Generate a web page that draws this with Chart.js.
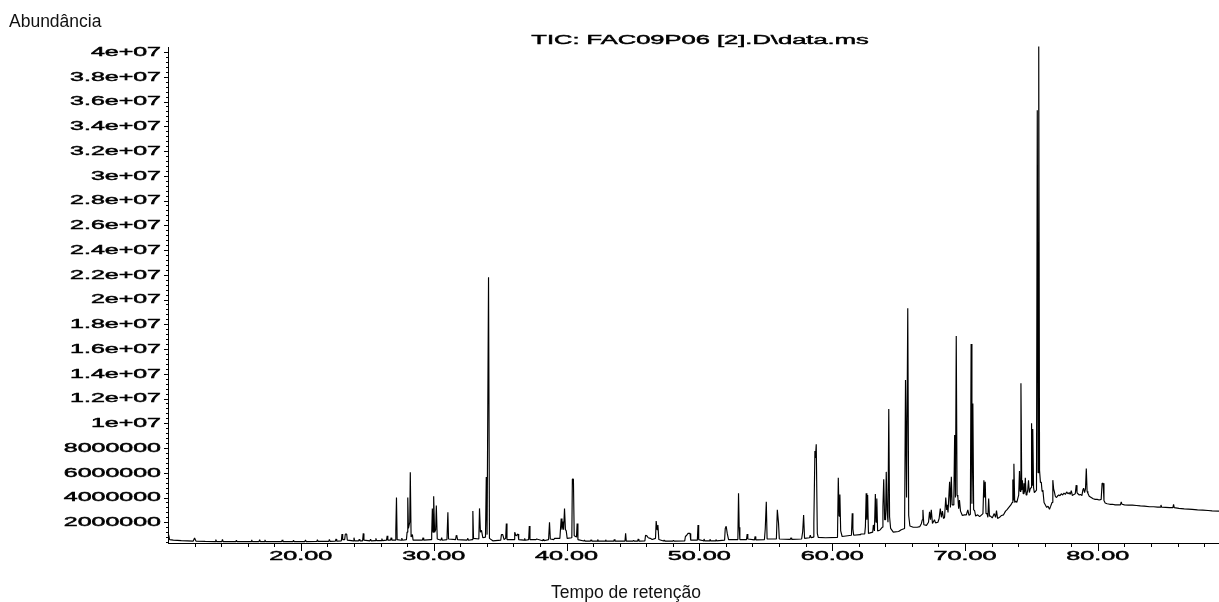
<!DOCTYPE html>
<html>
<head>
<meta charset="utf-8">
<script src="https://cdn.jsdelivr.net/npm/chart.js@4/dist/chart.umd.min.js"></script>
<style>
  html, body { margin: 0; padding: 0; background: #fff; }
  canvas { display: block; }
</style>
</head>
<body>
<canvas id="c" width="1219" height="602"></canvas>
<script>
// ---------------- DATA ----------------
const chartTitle = 'TIC: FAC09P06 [2].D\\data.ms';
const yAxisTitle = 'Abundância';
const xAxisTitle = 'Tempo de retenção';

const xTickValues = [20, 30, 40, 50, 60, 70, 80];
const xTickLabels = ['20.00', '30.00', '40.00', '50.00', '60.00', '70.00', '80.00'];

const yTickValues = [2e6, 4e6, 6e6, 8e6, 10e6, 12e6, 14e6, 16e6, 18e6, 20e6,
                     22e6, 24e6, 26e6, 28e6, 30e6, 32e6, 34e6, 36e6, 38e6, 40e6];
const yTickLabels = ['2000000', '4000000', '6000000', '8000000', '1e+07', '1.2e+07', '1.4e+07', '1.6e+07', '1.8e+07', '2e+07',
                     '2.2e+07', '2.4e+07', '2.6e+07', '2.8e+07', '3e+07', '3.2e+07', '3.4e+07', '3.6e+07', '3.8e+07', '4e+07'];

// retention time (min)
const retentionTime = [
  10.00, 10.06, 10.12, 10.40, 11.00, 11.90, 12.00, 12.10, 12.80, 13.55,
  13.60, 13.65, 14.05, 14.10, 14.15, 15.10, 15.15, 15.20, 16.25, 16.30,
  16.35, 16.85, 16.90, 16.95, 17.25, 17.30, 17.35, 18.55, 18.60, 18.65,
  19.40, 19.45, 19.50, 20.30, 20.35, 20.40, 21.20, 21.25, 21.30, 22.10,
  22.15, 22.20, 22.60, 22.65, 22.70, 23.05, 23.10, 23.15, 23.30, 23.35,
  23.45, 23.50, 23.95, 24.00, 24.05, 24.35, 24.40, 24.45, 24.65, 24.70,
  24.75, 25.20, 25.25, 25.30, 25.60, 25.65, 25.70, 26.05, 26.10, 26.15,
  26.45, 26.50, 26.55, 26.75, 26.80, 26.85, 27.10, 27.15, 27.20, 27.25,
  27.55, 27.60, 27.65, 27.95, 28.00, 28.05, 28.10, 28.20, 28.24, 28.30,
  28.40, 28.45, 29.15, 29.20, 29.25, 29.80, 29.85, 29.90, 29.95, 30.00,
  30.07, 30.15, 30.20, 30.27, 30.55, 30.60, 30.65, 31.00, 31.07, 31.12,
  31.65, 31.70, 31.75, 31.80, 32.50, 32.57, 32.62, 32.90, 32.95, 33.00,
  33.40, 33.45, 33.52, 33.60, 33.70, 33.90, 33.96, 34.02, 34.13, 34.20,
  34.45, 35.05, 35.10, 35.20, 35.30, 35.42, 35.47, 35.52, 36.05, 36.10,
  36.20, 36.35, 36.40, 36.80, 36.85, 36.90, 37.15, 37.20, 37.25, 37.70,
  37.75, 38.20, 38.25, 38.30, 38.65, 38.72, 38.78, 39.05, 39.10, 39.50,
  39.60, 39.66, 39.72, 39.78, 39.85, 39.92, 39.98, 40.05, 40.40, 40.44,
  40.52, 40.58, 40.75, 40.80, 40.86, 41.30, 41.35, 41.40, 41.80, 41.85,
  41.90, 42.30, 42.35, 42.40, 42.90, 42.95, 43.00, 43.55, 43.60, 43.65,
  44.40, 44.45, 44.50, 45.00, 45.05, 45.10, 45.35, 45.40, 45.45, 45.90,
  45.95, 46.05, 46.15, 46.30, 46.45, 46.70, 46.75, 46.82, 46.88, 46.95,
  47.30, 47.35, 47.40, 48.00, 48.05, 48.10, 48.90, 48.95, 49.05, 49.15,
  49.30, 49.35, 49.85, 49.90, 49.95, 50.30, 50.35, 50.40, 50.75, 50.80,
  50.85, 51.20, 51.25, 51.30, 51.90, 51.95, 52.02, 52.10, 52.20, 52.90,
  52.95, 53.00, 53.05, 53.55, 53.60, 53.65, 54.15, 54.20, 54.25, 54.90,
  54.96, 55.04, 55.10, 55.80, 55.87, 55.96, 56.02, 56.85, 56.90, 56.95,
  57.70, 57.78, 57.85, 57.92, 58.30, 58.35, 58.42, 58.58, 58.62, 58.70,
  58.74, 58.80, 58.88, 58.95, 59.50, 60.40, 60.46, 60.52, 60.58, 60.64,
  60.75, 61.45, 61.51, 61.56, 61.62, 62.10, 62.15, 62.45, 62.50, 62.56,
  62.61, 62.67, 62.73, 63.05, 63.10, 63.18, 63.25, 63.30, 63.36, 63.42,
  63.57, 63.62, 63.78, 63.82, 63.88, 63.95, 64.02, 64.07, 64.13, 64.20,
  64.26, 64.32, 64.40, 64.60, 65.00, 65.20, 65.45, 65.52, 65.60, 65.69,
  65.76, 65.85, 66.10, 66.40, 66.60, 66.72, 66.78, 66.83, 66.90, 67.10,
  67.25, 67.33, 67.40, 67.46, 67.55, 67.70, 67.78, 67.96, 68.05, 68.14,
  68.22, 68.30, 68.38, 68.46, 68.55, 68.62, 68.66, 68.72, 68.84, 68.90,
  68.97, 69.03, 69.10, 69.16, 69.22, 69.28, 69.34, 69.40, 69.46, 69.52,
  69.58, 69.66, 69.80, 69.95, 70.10, 70.21, 70.30, 70.40, 70.46, 70.52,
  70.59, 70.65, 70.72, 70.80, 70.95, 71.10, 71.25, 71.35, 71.42, 71.47,
  71.52, 71.58, 71.65, 71.72, 71.78, 71.84, 71.92, 72.05, 72.20, 72.30,
  72.37, 72.45, 72.60, 72.75, 72.90, 73.05, 73.15, 73.30, 73.45, 73.55,
  73.60, 73.64, 73.68, 73.74, 73.82, 73.90, 73.98, 74.04, 74.10, 74.15,
  74.21, 74.27, 74.32, 74.38, 74.44, 74.49, 74.54, 74.60, 74.66, 74.72,
  74.78, 74.84, 74.91, 74.97, 75.01, 75.06, 75.10, 75.16, 75.22, 75.30,
  75.38, 75.44, 75.50, 75.55, 75.61, 75.68, 75.74, 75.80, 75.86, 75.95,
  76.05, 76.15, 76.25, 76.36, 76.45, 76.55, 76.61, 76.67, 76.72, 76.80,
  76.87, 76.95, 77.05, 77.15, 77.25, 77.35, 77.45, 77.55, 77.65, 77.75,
  77.85, 77.92, 78.00, 78.08, 78.20, 78.30, 78.37, 78.43, 78.50, 78.60,
  78.70, 78.80, 78.87, 78.93, 79.00, 79.07, 79.13, 79.19, 79.25, 79.35,
  79.50, 79.65, 79.80, 79.95, 80.10, 80.25, 80.32, 80.40, 80.46, 80.55,
  80.70, 80.90, 81.10, 81.30, 81.50, 81.70, 81.76, 81.82, 82.00, 82.30,
  82.60, 82.90, 83.20, 83.50, 83.90, 84.20, 84.50, 84.70, 84.75, 84.80,
  85.10, 85.40, 85.65, 85.70, 85.75, 86.10, 86.50, 86.80, 87.10, 87.50,
  87.90, 88.30, 88.60, 89.12
];

// total ion current abundance
const abundance = [
  1.00e6, 0.95e6, 0.60e6, 0.56e6, 0.52e6, 0.48e6, 0.72e6, 0.48e6, 0.45e6, 0.44e6,
  0.60e6, 0.44e6, 0.44e6, 0.62e6, 0.44e6, 0.43e6, 0.55e6, 0.43e6, 0.43e6, 0.58e6,
  0.43e6, 0.43e6, 0.60e6, 0.43e6, 0.43e6, 0.58e6, 0.43e6, 0.43e6, 0.58e6, 0.43e6,
  0.43e6, 0.55e6, 0.43e6, 0.44e6, 0.56e6, 0.44e6, 0.45e6, 0.58e6, 0.45e6, 0.46e6,
  0.62e6, 0.46e6, 0.47e6, 0.65e6, 0.47e6, 0.50e6, 1.05e6, 0.60e6, 0.60e6, 1.05e6,
  1.05e6, 0.55e6, 0.50e6, 0.75e6, 0.50e6, 0.50e6, 0.62e6, 0.50e6, 0.50e6, 1.10e6,
  0.55e6, 0.50e6, 0.62e6, 0.50e6, 0.52e6, 0.70e6, 0.52e6, 0.52e6, 0.68e6, 0.52e6,
  0.55e6, 0.90e6, 0.55e6, 0.55e6, 0.75e6, 0.55e6, 0.55e6, 1.35e6, 4.00e6, 0.60e6,
  0.55e6, 0.72e6, 0.55e6, 0.60e6, 1.20e6, 4.00e6, 1.50e6, 2.00e6, 6.05e6, 0.80e6,
  1.00e6, 0.55e6, 0.55e6, 0.75e6, 0.55e6, 0.60e6, 1.00e6, 3.10e6, 1.20e6, 4.10e6,
  1.20e6, 1.40e6, 3.35e6, 0.65e6, 0.55e6, 0.75e6, 0.55e6, 0.60e6, 2.80e6, 0.65e6,
  0.60e6, 0.95e6, 0.85e6, 0.60e6, 0.55e6, 0.70e6, 0.55e6, 0.60e6, 2.90e6, 0.70e6,
  0.65e6, 3.12e6, 1.20e6, 1.35e6, 0.75e6, 0.80e6, 5.65e6, 1.00e6, 21.80e6, 0.70e6,
  0.50e6, 0.55e6, 1.00e6, 1.00e6, 0.60e6, 0.70e6, 1.90e6, 0.60e6, 0.60e6, 1.20e6,
  0.90e6, 1.05e6, 0.60e6, 0.55e6, 0.70e6, 0.55e6, 0.60e6, 1.70e6, 0.60e6, 0.60e6,
  0.65e6, 0.50e6, 0.62e6, 0.50e6, 0.60e6, 2.00e6, 0.65e6, 0.60e6, 0.70e6, 0.70e6,
  2.30e6, 1.40e6, 2.05e6, 1.40e6, 3.10e6, 1.40e6, 1.30e6, 0.70e6, 0.75e6, 5.48e6,
  5.48e6, 0.90e6, 0.80e6, 1.90e6, 0.60e6, 0.48e6, 0.55e6, 0.48e6, 0.48e6, 0.58e6,
  0.48e6, 0.47e6, 0.60e6, 0.47e6, 0.47e6, 0.58e6, 0.47e6, 0.47e6, 0.62e6, 0.47e6,
  0.47e6, 1.10e6, 0.47e6, 0.47e6, 0.55e6, 0.47e6, 0.47e6, 0.65e6, 0.47e6, 0.50e6,
  0.95e6, 0.90e6, 0.75e6, 0.70e6, 0.60e6, 0.70e6, 2.10e6, 1.40e6, 1.78e6, 0.60e6,
  0.48e6, 0.55e6, 0.48e6, 0.47e6, 0.53e6, 0.47e6, 0.50e6, 0.85e6, 0.95e6, 1.10e6,
  1.10e6, 0.55e6, 0.55e6, 1.78e6, 0.60e6, 0.50e6, 0.65e6, 0.50e6, 0.50e6, 0.62e6,
  0.50e6, 0.50e6, 0.60e6, 0.50e6, 0.55e6, 1.50e6, 1.68e6, 1.10e6, 0.60e6, 0.60e6,
  4.35e6, 1.60e6, 0.60e6, 0.60e6, 1.05e6, 0.65e6, 0.58e6, 0.85e6, 0.58e6, 0.60e6,
  1.45e6, 3.65e6, 0.65e6, 0.65e6, 3.00e6, 1.95e6, 0.65e6, 0.62e6, 0.75e6, 0.62e6,
  0.65e6, 1.25e6, 2.58e6, 0.70e6, 0.75e6, 0.95e6, 0.75e6, 0.80e6, 1.95e6, 7.75e6,
  7.20e6, 8.30e6, 1.10e6, 0.78e6, 0.75e6, 0.78e6, 5.60e6, 2.50e6, 4.25e6, 1.30e6,
  0.85e6, 0.95e6, 2.72e6, 1.45e6, 0.95e6, 1.00e6, 1.05e6, 1.05e6, 1.65e6, 4.34e6,
  2.20e6, 4.20e6, 1.10e6, 1.20e6, 1.78e6, 1.30e6, 4.28e6, 2.00e6, 3.92e6, 1.30e6,
  1.35e6, 1.40e6, 1.60e6, 3.25e6, 5.48e6, 2.20e6, 2.20e6, 6.07e6, 3.00e6, 2.00e6,
  11.15e6, 2.45e6, 1.50e6, 1.20e6, 1.25e6, 1.40e6, 1.50e6, 13.50e6, 4.00e6, 19.30e6,
  2.55e6, 1.70e6, 1.60e6, 1.60e6, 1.65e6, 1.90e6, 2.20e6, 3.00e6, 1.80e6, 1.75e6,
  2.00e6, 2.85e6, 2.20e6, 3.00e6, 1.90e6, 2.20e6, 1.95e6, 2.00e6, 2.30e6, 3.10e6,
  2.40e6, 2.90e6, 2.30e6, 2.40e6, 4.00e6, 3.00e6, 3.40e6, 2.80e6, 5.27e6, 3.20e6,
  5.67e6, 3.40e6, 3.40e6, 4.00e6, 9.05e6, 4.00e6, 17.05e6, 4.20e6, 4.05e6, 3.10e6,
  3.80e6, 2.90e6, 2.55e6, 2.60e6, 2.60e6, 3.00e6, 2.55e6, 2.65e6, 16.40e6, 3.50e6,
  11.60e6, 3.00e6, 2.95e6, 2.50e6, 2.60e6, 2.45e6, 2.60e6, 2.70e6, 5.40e6, 4.00e6,
  5.27e6, 2.70e6, 2.75e6, 2.40e6, 3.92e6, 2.50e6, 2.50e6, 2.35e6, 2.70e6, 2.40e6,
  2.95e6, 2.30e6, 2.40e6, 2.55e6, 2.60e6, 2.90e6, 3.00e6, 3.20e6, 3.40e6, 3.60e6,
  5.45e6, 3.80e6, 6.72e6, 3.60e6, 3.70e6, 3.60e6, 3.95e6, 4.20e6, 6.15e6, 4.50e6,
  13.23e6, 4.60e6, 5.40e6, 4.30e6, 5.15e6, 4.40e6, 5.60e6, 4.20e6, 4.30e6, 4.60e6,
  5.40e6, 4.40e6, 4.70e6, 4.80e6, 10.00e6, 5.00e6, 9.53e6, 4.80e6, 4.40e6, 4.50e6,
  4.60e6, 35.30e6, 6.00e6, 40.45e6, 6.20e6, 5.20e6, 5.25e6, 4.50e6, 4.60e6, 3.60e6,
  3.40e6, 3.20e6, 3.30e6, 3.05e6, 3.30e6, 3.60e6, 5.40e6, 4.70e6, 4.50e6, 4.10e6,
  4.00e6, 4.10e6, 4.20e6, 4.15e6, 4.30e6, 4.20e6, 4.35e6, 4.25e6, 4.45e6, 4.30e6,
  4.40e6, 4.25e6, 4.55e6, 4.15e6, 4.25e6, 4.30e6, 5.00e6, 4.40e6, 4.30e6, 4.20e6,
  4.25e6, 4.15e6, 4.60e6, 4.75e6, 4.40e6, 4.70e6, 6.35e6, 4.50e6, 4.35e6, 4.10e6,
  4.00e6, 3.90e6, 3.85e6, 3.85e6, 3.80e6, 3.85e6, 5.15e6, 5.15e6, 3.75e6, 3.55e6,
  3.50e6, 3.45e6, 3.45e6, 3.40e6, 3.40e6, 3.40e6, 3.65e6, 3.45e6, 3.40e6, 3.38e6,
  3.38e6, 3.35e6, 3.32e6, 3.30e6, 3.25e6, 3.25e6, 3.22e6, 3.22e6, 3.40e6, 3.22e6,
  3.20e6, 3.18e6, 3.18e6, 3.45e6, 3.18e6, 3.12e6, 3.08e6, 3.06e6, 3.04e6, 3.00e6,
  2.98e6, 2.95e6, 2.92e6, 2.90e6
];

// ---------------- CHART ----------------
const points = retentionTime.map((t, i) => ({ x: t, y: abundance[i] }));

const FONT_STRETCH = '"Liberation Sans", Arial, sans-serif';

function stretchedText(ctx, text, x, y, align, sx) {
  ctx.save();
  ctx.translate(x, y);
  ctx.scale(sx, 1);
  ctx.textAlign = align;
  ctx.lineWidth = 0.45;
  ctx.strokeText(text, 0, 0);
  ctx.fillText(text, 0, 0);
  ctx.restore();
}

const axisDecor = {
  id: 'axisDecor',
  afterDraw(chart) {
    const ctx = chart.ctx;
    const a = chart.chartArea;
    const xs = chart.scales.x, ys = chart.scales.y;
    ctx.save();
    ctx.strokeStyle = '#000';
    ctx.fillStyle = '#000';
    ctx.lineWidth = 1;

    // y minor ticks (every 400000)
    ctx.beginPath();
    for (let i = 1; i <= 100; i++) {
      if (i % 5 === 0) continue;
      const yy = Math.round(ys.getPixelForValue(i * 4e5)) + 0.5;
      if (yy > a.bottom) continue;
      ctx.moveTo(a.left - 2, yy);
      ctx.lineTo(a.left, yy);
    }
    // y major ticks
    yTickValues.forEach(v => {
      const yy = Math.round(ys.getPixelForValue(v)) + 0.5;
      ctx.moveTo(a.left - 4, yy);
      ctx.lineTo(a.left, yy);
    });
    // x minor ticks (every 2 min)
    for (let i = 6; i <= 44; i++) {
      const t = i * 2;
      if (t % 10 === 0) continue;
      const xx = Math.round(xs.getPixelForValue(t)) + 0.5;
      ctx.moveTo(xx, a.bottom);
      ctx.lineTo(xx, a.bottom + 3.5);
    }
    // x major ticks
    xTickValues.forEach(v => {
      const xx = Math.round(xs.getPixelForValue(v)) + 0.5;
      ctx.moveTo(xx, a.bottom);
      ctx.lineTo(xx, a.bottom + 7.5);
    });
    ctx.stroke();

    // tick labels (wide, horizontally stretched font)
    ctx.font = '12px ' + FONT_STRETCH;
    ctx.textBaseline = 'middle';
    yTickValues.forEach((v, i) => {
      stretchedText(ctx, yTickLabels[i], a.left - 7, ys.getPixelForValue(v) + 0.5, 'right', 2.08);
    });
    xTickValues.forEach((v, i) => {
      stretchedText(ctx, xTickLabels[i], xs.getPixelForValue(v), 557, 'center', 2.1);
    });

    // chart title
    ctx.font = '12.5px ' + FONT_STRETCH;
    stretchedText(ctx, chartTitle, 700, 40.5, 'center', 2.04);

    // axis titles
    ctx.font = '17.5px "Liberation Sans", Arial, sans-serif';
    ctx.textBaseline = 'alphabetic';
    ctx.textAlign = 'left';
    ctx.fillStyle = '#111';
    ctx.fillText(yAxisTitle, 9, 26.5);
    ctx.textAlign = 'center';
    ctx.fillText(xAxisTitle, 626, 597.5);
    ctx.restore();
  }
};

new Chart(document.getElementById('c'), {
  type: 'line',
  data: {
    datasets: [{
      data: points,
      borderColor: '#000',
      borderWidth: 1.15,
      borderJoinStyle: 'bevel',
      pointRadius: 0,
      pointHoverRadius: 0,
      tension: 0,
      fill: false,
      clip: false
    }]
  },
  options: {
    responsive: false,
    animation: false,
    devicePixelRatio: 1,
    events: [],
    layout: { padding: { top: 47.67, left: 0, right: 0, bottom: 0 } },
    plugins: {
      legend: { display: false },
      tooltip: { enabled: false },
      title: { display: false }
    },
    scales: {
      x: {
        type: 'linear',
        min: 10,
        max: 89.12,
        grid: { display: false },
        ticks: { display: false },
        border: { display: true, color: '#000', width: 1 },
        afterFit: s => { s.height = 58.5; }
      },
      y: {
        type: 'linear',
        min: 283000,
        max: 40350000,
        grid: { display: false },
        ticks: { display: false },
        border: { display: true, color: '#000', width: 1 },
        afterFit: s => { s.width = 168; }
      }
    }
  },
  plugins: [axisDecor]
});
</script>
</body>
</html>
